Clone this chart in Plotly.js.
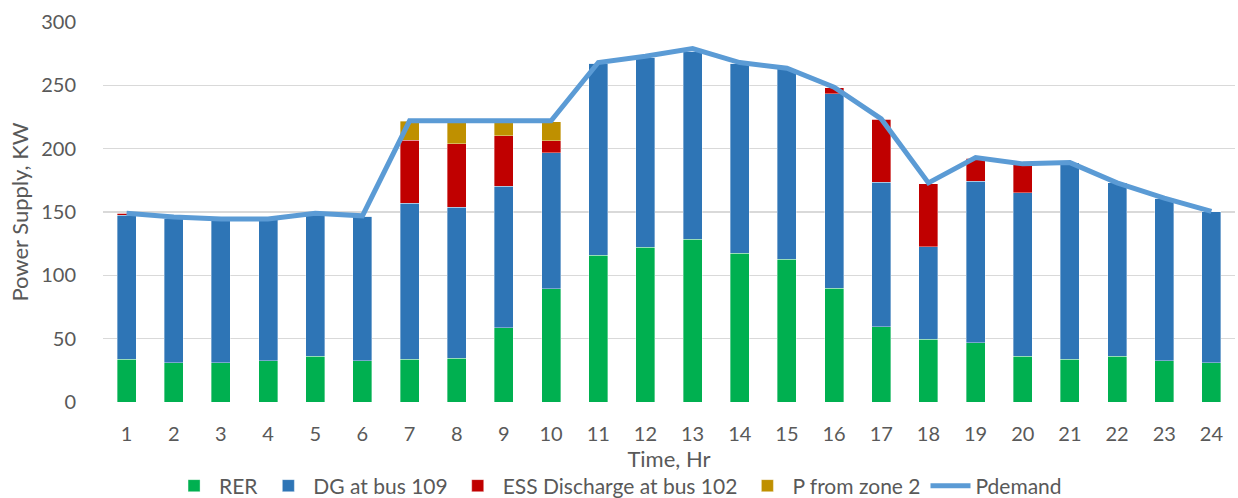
<!DOCTYPE html>
<html>
<head>
<meta charset="utf-8">
<script src="https://cdn.plot.ly/plotly-3.0.1.min.js"></script>
<style>html,body{margin:0;padding:0;background:#fff;}#chart{width:1238px;height:498px;}</style>
</head>
<body>
<div id="chart"></div>
<script>
const hours = ['1','2','3','4','5','6','7','8','9','10','11','12','13','14','15','16','17','18','19','20','21','22','23','24'];
const rer = [33.7,31,31,32.6,36.3,32.6,33.7,34.5,58.7,89.5,115.8,122.1,128.4,117.4,112.6,89.7,59.5,49.5,46.8,36.3,33.7,36.3,32.6,31];
const dg = [113.9,114,113,111.4,111.7,114.2,123.4,119.2,111.8,107.1,151.6,149.9,148.6,150,150.4,153.7,113.9,72.9,127.4,129,155.3,136.7,128.2,119.3];
const ess = [1.5,0,0,0,0,0,49.7,50,39.8,9.7,0,0,0,0,0,4.8,50,50,18.2,23,0,0,0,0];
const zone2 = [0,0,0,0,0,0,15,17,11,15,0,0,0,0,0,0,0,0,0,0,0,0,0,0];
const pdemand = [149,146,144.5,144.5,149,147,222,222,222,222,268,273,279,268,263.5,248.5,223.5,173,193,188,189,173,161,150.5];

const edge = {color:'rgba(255,255,255,0.45)', width:0.8};
const traces = [
  {type:'bar', name:'RER', x:hours, y:rer, marker:{color:'#00B050', line:edge}},
  {type:'bar', name:'DG at bus 109', x:hours, y:dg, marker:{color:'#2E75B6', line:edge}},
  {type:'bar', name:'ESS Discharge at bus 102', x:hours, y:ess, marker:{color:'#C00000', line:edge}},
  {type:'bar', name:'P from zone 2', x:hours, y:zone2, marker:{color:'#BF9000', line:edge}},
  {type:'scatter', mode:'lines', name:'Pdemand', x:hours, y:pdemand, line:{color:'#5B9BD5', width:5}}
];
const fam = 'Lato, "Open Sans", sans-serif';
const tickFont = {family:fam, size:20, color:'#595959'};
const titleFont = {family:fam, size:22, color:'#595959'};
const legFont = {family:fam, size:21, color:'#595959'};
const layout = {
  width:1238, height:498,
  margin:{l:103, r:3, t:22, b:96, autoexpand:false},
  barmode:'stack', bargap:0.6,
  paper_bgcolor:'#fff', plot_bgcolor:'#fff',
  font:tickFont,
  showlegend:true,
  legend:{orientation:'h', x:0.455, xanchor:'center', y:-0.221, yanchor:'middle', font:legFont, traceorder:'normal', itemwidth:40},
  xaxis:{type:'category', tickfont:tickFont, ticks:'outside', ticklen:14, tickcolor:'rgba(0,0,0,0)',
    showline:false, showgrid:false, automargin:false,
    title:{text:'Time, Hr', font:titleFont, standoff:4}},
  yaxis:{range:[0,300], dtick:50, tickfont:tickFont, ticks:'outside', ticklen:22, tickcolor:'rgba(0,0,0,0)',
    showgrid:true, gridcolor:'#D9D9D9', gridwidth:1.3, zeroline:false, automargin:false,
    title:{text:'Power Supply, KW', font:titleFont, standoff:6}}
};
Plotly.newPlot('chart', traces, layout, {displayModeBar:false, staticPlot:true});
</script>
</body>
</html>
